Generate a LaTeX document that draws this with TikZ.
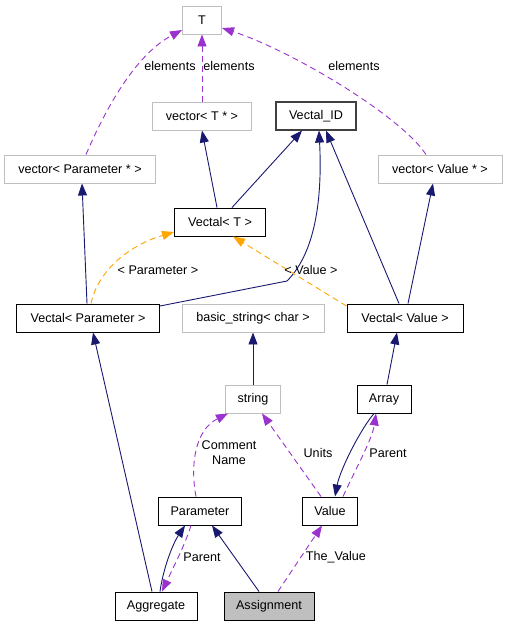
\documentclass[tikz,border=0pt]{standalone}
\usepackage{fontspec}
\setmainfont{Liberation Sans}
\usetikzlibrary{
  arrows.meta,
  positioning}
\definecolor{edgeNavy}{HTML}{191970}
\definecolor{edgePurple}{HTML}{9A32CD}
\definecolor{edgeOrange}{HTML}{FFA500}
\definecolor{boxGray}{HTML}{BFBFBF}

\begin{document}
\begin{tikzpicture}[
  x=1pt, y=-1pt,
  >={Triangle[length=12pt,width=9pt]},
  every node/.style={font=\fontsize{12.6}{15}\selectfont,inner sep=0pt},
  cls/.style={draw=black,line width=0.95pt,fill=white,minimum height=28pt,minimum width=#1},
  cls/.default=40pt,
  ext/.style={cls=#1,draw=boxGray},
  ext/.default=40pt,
  inherit/.style={->,draw=edgeNavy,line width=0.9pt},
  uses/.style={->,draw=edgePurple,line width=0.9pt,dashed,dash pattern=on 6pt off 4pt},
  templ/.style={->,draw=edgeOrange,line width=0.9pt,dash pattern=on 6pt off 4pt},
  lbl/.style={fill=none,align=center}
]%
  \useasboundingbox (0,0) rectangle (507,627);

  \node[ext=39pt]  (T)      at (202,20)  {T};
  \node[ext=99pt]  (vecT)   at (202,116) {vector< T * >};
  \node[cls=80pt,draw=black!75,line width=1.2pt] (vID) at (316,116) {Vectal\_ID};
  \node[ext=151pt] (vecPar) at (80,169)  {vector< Parameter * >};
  \node[ext=124pt] (vecVal) at (440,169) {vector< Value * >};
  \node[cls=91pt]  (vT)     at (220,222) {Vectal< T >};
  \node[cls=143pt] (vPar)   at (88,318)  {Vectal< Parameter >};
  \node[ext=142pt] (bStr)   at (253,318) {basic\_string< char >};
  \node[cls=116pt] (vVal)   at (405,318) {Vectal< Value >};
  \node[ext=55pt]  (str)    at (253,399) {string};
  \node[cls=54pt]  (arr)    at (384,399) {Array};
  \node[cls=83pt]  (par)    at (200,511) {Parameter};
  \node[cls=55pt]  (val)    at (330,511) {Value};
  \node[cls=82pt]  (agg)    at (156,606) {Aggregate};
  \node[cls=90pt,fill=boxGray] (asg) at (269,606) {Assignment};

  % elements
  \draw[uses] ([xshift=6pt]vecPar.north) .. controls (105,110) and (135,55) .. ([yshift=-10pt]T.west);
  \draw[uses] (vecT.north) -- (T.south);
  \draw[uses] ([xshift=-14pt]vecVal.north) .. controls (400,115) and (290,50) .. ([yshift=-8pt]T.east);
  \node[lbl] (lE1) at (170,66) {elements};
  \node[lbl] (lE2) at (229,66) {elements};
  \node[lbl] (lE3) at (354,66) {elements};

  \draw[inherit] ([xshift=-3pt]vT.north) -- (vecT.south);
  \draw[inherit] ([xshift=12pt]vT.north) -- ([xshift=-14pt]vID.south);
  \draw[inherit] ([yshift=12pt]vPar.east) -- (287,281) .. controls (318,250) and (322,190) .. ([xshift=3pt]vID.south);
  \draw[inherit] ([xshift=-6pt]vVal.north) -- ([xshift=10pt]vID.south);
  \draw[inherit] ([xshift=3pt]vVal.north) -- ([xshift=-7pt]vecVal.south);
  \draw[inherit] ([xshift=-1pt]vPar.north) -- ([xshift=2pt]vecPar.south);

  \draw[templ] ([xshift=3pt]vPar.north) .. controls (98,270) and (130,245) .. ([yshift=-10pt]vT.west);
  \draw[templ] ([yshift=12pt]vVal.west) -- ([xshift=13pt]vT.south);
  \node[lbl] (lTP) at (158,270) {< Parameter >};
  \node[lbl] (lTV) at (311,270) {< Value >};

  \draw[inherit] (str.north) -- (bStr.south);
  \draw[inherit] ([xshift=3pt]arr.north) -- ([xshift=-8pt]vVal.south);
  \draw[inherit] ([xshift=-4pt]agg.north) -- ([xshift=5pt]vPar.south);

  \draw[uses] ([xshift=-4pt]par.north) .. controls (190,465) and (195,430) .. ([xshift=-25pt]str.south);
  \draw[uses] ([xshift=-9pt]val.north) -- ([xshift=9pt]str.south);
  \node[lbl] (lCN) at (229,453) {Comment\\Name};
  \node[lbl] (lU)  at (318,453) {Units};

  \draw[inherit] ([xshift=-10pt]arr.south) .. controls (360,430) and (340,470) .. ([xshift=5pt]val.north);
  \draw[uses] ([xshift=13pt]val.north) .. controls (355,470) and (372,440) .. ([xshift=-8pt]arr.south);
  \node[lbl] (lP1) at (388,453) {Parent};

  \draw[inherit] ([xshift=4pt]agg.north) .. controls (163,570) and (172,545) .. ([xshift=-15pt]par.south);
  \draw[uses] ([xshift=-9pt]par.south) .. controls (185,545) and (172,570) .. ([xshift=6pt]agg.north);
  \node[lbl] (lP2) at (202,557) {Parent};

  \draw[inherit] ([xshift=-10pt]asg.north) -- ([xshift=12pt]par.south);
  \draw[uses] ([xshift=9pt]asg.north) -- ([xshift=-8pt]val.south);
  \node[lbl] (lTV2) at (336,557) {The\_Value};
\end{tikzpicture}
\end{document}
